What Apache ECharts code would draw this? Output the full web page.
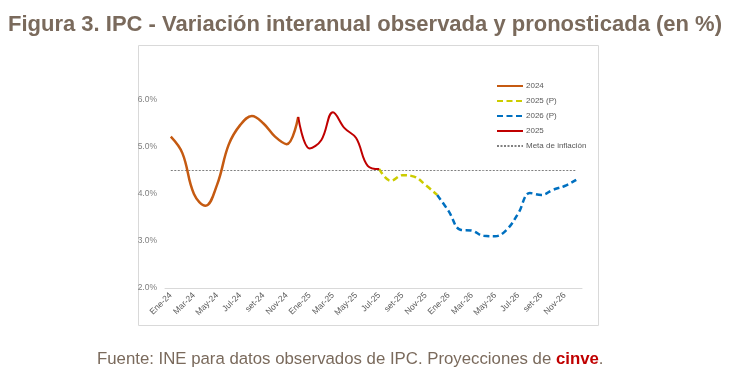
<!DOCTYPE html>
<html><head><meta charset="utf-8">
<script src="https://cdn.jsdelivr.net/npm/echarts@6/dist/echarts.min.js"></script>
<style>html,body{margin:0;padding:0;background:#fff}#c{width:730px;height:382px}</style>
</head><body><div id="c"></div>
<script>
const categories = ['Ene-24','Feb-24','Mar-24','Abr-24','May-24','Jun-24','Jul-24','Ago-24','set-24','Oct-24','Nov-24','Dic-24',
  'Ene-25','Feb-25','Mar-25','Abr-25','May-25','Jun-25','Jul-25','Ago-25','set-25','Oct-25','Nov-25','Dic-25',
  'Ene-26','Feb-26','Mar-26','Abr-26','May-26','Jun-26','Jul-26','Ago-26','set-26','Oct-26','Nov-26','Dic-26'];
const yTicks = [2, 3, 4, 5, 6];
// 2024 observed (Ene-24 .. Dic-24)
const obs2024 = [5.22, 4.87, 4.00, 3.75, 4.20, 5.05, 5.47, 5.66, 5.50, 5.22, 5.06, 5.64];
// 2025 observed (Dic-24 .. Jul-25)
const obs2025 = [5.64, 4.97, 5.15, 5.74, 5.40, 5.19, 4.60, 4.53];
// 2025 projected (Jul-25 .. Dic-25)
const proj2025 = [4.53, 4.28, 4.40, 4.37, 4.19, 3.98];
// 2026 projected (Dic-25 .. Dic-26)
const proj2026 = [3.98, 3.63, 3.24, 3.22, 3.11, 3.10, 3.24, 3.59, 4.02, 3.98, 4.09, 4.17, 4.30];
const META = 4.5;

function place(arr, startLabel) {
  const s = categories.indexOf(startLabel);
  return categories.map((_, i) => (i >= s && i < s + arr.length) ? arr[i - s] : null);
}

const chart = echarts.init(document.getElementById('c'));
const txt = '#595959';
const brown = '#7a6a5c';
chart.setOption({
  animation: false,
  title: {
    text: 'Figura 3. IPC - Variación interanual observada y pronosticada (en %)',
    left: 'center', top: 9,
    textStyle: { fontFamily: 'Liberation Sans', fontWeight: 'bold', fontSize: 22, color: brown }
  },
  graphic: [
    { type: 'rect', shape: { x: 138.5, y: 45.5, width: 460, height: 280 }, style: { fill: 'none', stroke: '#d9d9d9', lineWidth: 1 }, z: -1 },
    { type: 'text', left: 97, top: 351, style: {
        text: '{a|Fuente: INE para datos observados de IPC. Proyecciones de }{b|cinve}{a|.}',
        rich: {
          a: { fontFamily: 'Liberation Sans', fontSize: 16.8, fill: brown, color: brown },
          b: { fontFamily: 'Liberation Sans', fontSize: 16.8, fontWeight: 'bold', fill: '#c00000', color: '#c00000' }
        } } }
  ],
  legend: {
    orient: 'vertical', left: 491, top: 77, itemGap: 7, itemWidth: 26, itemHeight: 9,
    itemStyle: { color: 'transparent', borderWidth: 0, opacity: 0 },
    textStyle: { fontFamily: 'Liberation Sans', fontSize: 8, color: txt, padding: [0, 0, 0, -2] },
    data: ['2024', '2025 (P)', '2026 (P)', '2025', 'Meta de inflación']
  },
  grid: { left: 165, right: 148, top: 100, bottom: 94 },
  xAxis: {
    type: 'category', data: categories, boundaryGap: true,
    axisLine: { lineStyle: { color: '#d9d9d9', width: 1 } },
    axisTick: { interval: 1, length: 4, lineStyle: { color: '#d9d9d9' } },
    axisLabel: { interval: 1, rotate: 45, fontFamily: 'Liberation Sans', fontSize: 8.5, color: txt, margin: 6 }
  },
  yAxis: {
    type: 'value', min: yTicks[0], max: yTicks[yTicks.length - 1], interval: 1,
    splitLine: { show: false }, axisLine: { show: false }, axisTick: { show: false },
    axisLabel: { formatter: v => v.toFixed(1) + '%', fontFamily: 'Liberation Sans', fontSize: 8.5, color: '#7f7f7f', margin: 8 }
  },
  series: [
    { name: '2024', type: 'line', data: place(obs2024, 'Ene-24'), smooth: 0.4, symbol: 'none',
      lineStyle: { color: '#c55a11', width: 2.5 }, itemStyle: { color: '#c55a11' }, z: 3 },
    { name: '2025 (P)', type: 'line', data: place(proj2025, 'Jul-25'), smooth: 0.4, symbol: 'none',
      lineStyle: { color: '#cccc00', width: 2.5, type: [6, 3.5] }, itemStyle: { color: '#cccc00' }, z: 3 },
    { name: '2026 (P)', type: 'line', data: place(proj2026, 'Dic-25'), smooth: 0.4, symbol: 'none',
      lineStyle: { color: '#0070c0', width: 2.5, type: [6, 3.5] }, itemStyle: { color: '#0070c0' }, z: 3 },
    { name: '2025', type: 'line', data: place(obs2025, 'Dic-24'), smooth: 0.4, symbol: 'none',
      lineStyle: { color: '#c00000', width: 2 }, itemStyle: { color: '#c00000' }, z: 4 },
    { name: 'Meta de inflación', type: 'line', data: categories.map(() => META), symbol: 'none',
      lineStyle: { color: '#808080', width: 1, type: [2, 1.5] }, itemStyle: { color: '#808080' }, z: 2 }
  ]
});
</script></body></html>
